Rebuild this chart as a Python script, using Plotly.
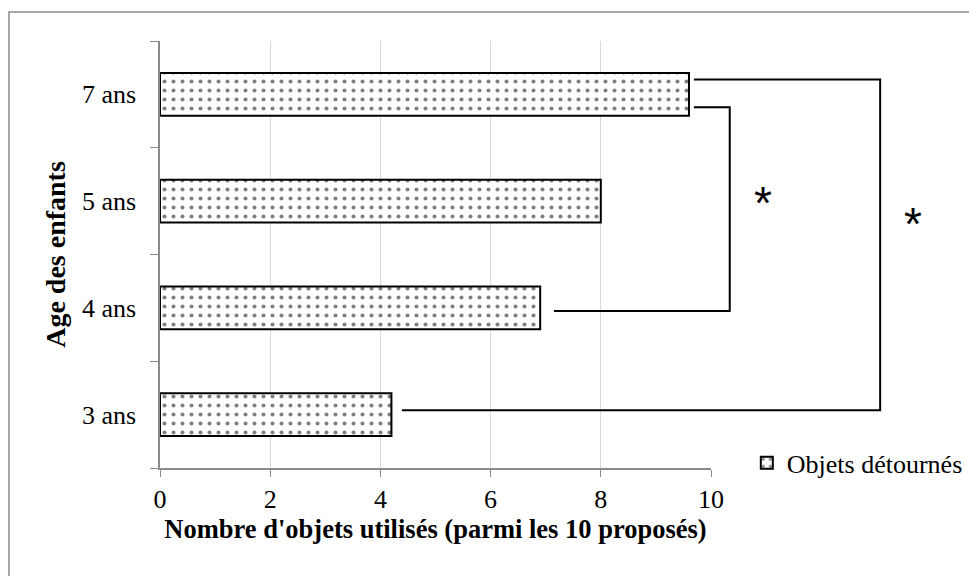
import plotly.graph_objects as go

# values
categories = ["3 ans", "4 ans", "5 ans", "7 ans"]
values = [4.2, 6.9, 8.0, 9.6]
x_ticks = [0, 2, 4, 6, 8, 10]
series_name = "Objets détournés"
x_title = "Nombre d'objets utilisés (parmi les 10 proposés)"
y_title = "Age des enfants"

# significance brackets: (upper category, lower category, x of vertical stroke, y offsets)
brackets = [("7 ans", "4 ans", 10.34, -0.12, -0.03),
            ("7 ans", "3 ans", 13.07, 0.14, 0.04)]

X_MAX = 10.0
N = len(categories)
SERIF = "Liberation Serif"


def px(x):
    return x / X_MAX


def py(i):
    return (i + 0.5) / N


fig = go.Figure()
fig.add_trace(go.Bar(
    y=categories, x=values, orientation="h", name=series_name,
    width=0.4,
    marker=dict(color="white",
                line=dict(color="black", width=2),
                pattern=dict(shape=".", fgcolor="#000000", bgcolor="white",
                             size=9, solidity=0.16)),
    showlegend=True,
))

shapes = []
for top, bottom, xv, dtop, dbot in brackets:
    it, ib = categories.index(top), categories.index(bottom)
    xt0 = values[it] + 0.09
    xb0 = values[ib] + (0.25 if ib else 0.19)
    yt = py(it + dtop)
    yb = py(ib + dbot)
    shapes.append(dict(
        type="path", xref="paper", yref="paper",
        path=f"M{px(xt0)},{yt} L{px(xv)},{yt} L{px(xv)},{yb} L{px(xb0)},{yb}",
        line=dict(color="black", width=2)))

# outer chart border
shapes.append(dict(type="rect", xref="paper", yref="paper",
                   x0=-0.274, x1=2, y0=-1, y1=1.068,
                   line=dict(color="#8a8a8a", width=1.5)))

stars = [dict(x=px(11.15), y=0.62), dict(x=px(13.86), y=0.571)]
annotations = [dict(text="*", x=s["x"], y=s["y"], xref="paper", yref="paper",
                    showarrow=False, font=dict(family="Liberation Sans", size=46, color="black"))
               for s in stars]

fig.update_layout(
    width=969, height=568,
    margin=dict(l=152, r=266, t=33, b=108, autoexpand=False),
    paper_bgcolor="white", plot_bgcolor="white",
    font=dict(family=SERIF, size=26, color="black"),
    shapes=shapes,
    annotations=annotations,
    legend=dict(x=1.065, y=0.012, xanchor="left", yanchor="middle",
                font=dict(family=SERIF, size=26, color="black"),
                bgcolor="rgba(0,0,0,0)", itemwidth=30),
    bargap=0.6,
)
fig.update_xaxes(
    range=[0, X_MAX], tickvals=x_ticks, showgrid=True, gridcolor="#d9d9d9",
    gridwidth=1.3, showline=True, linecolor="#8a8a8a", linewidth=1.5,
    ticks="outside", ticklen=7, tickcolor="#8a8a8a", zeroline=False,
    tickfont=dict(family=SERIF, size=26),
    title=dict(text=f"<b>{x_title}</b>", standoff=6, font=dict(family=SERIF, size=26.5)),
)
fig.update_yaxes(
    categoryorder="array", categoryarray=categories,
    showline=True, linecolor="#8a8a8a", linewidth=1.5,
    ticks="outside", ticklen=8, tickcolor="#8a8a8a", tickson="boundaries",
    showgrid=False, ticklabelstandoff=17, tickfont=dict(family=SERIF, size=26),
    title=dict(text=f"<b>{y_title}</b>", standoff=8, font=dict(family=SERIF, size=28)),
)

fig.write_html("out.html")
